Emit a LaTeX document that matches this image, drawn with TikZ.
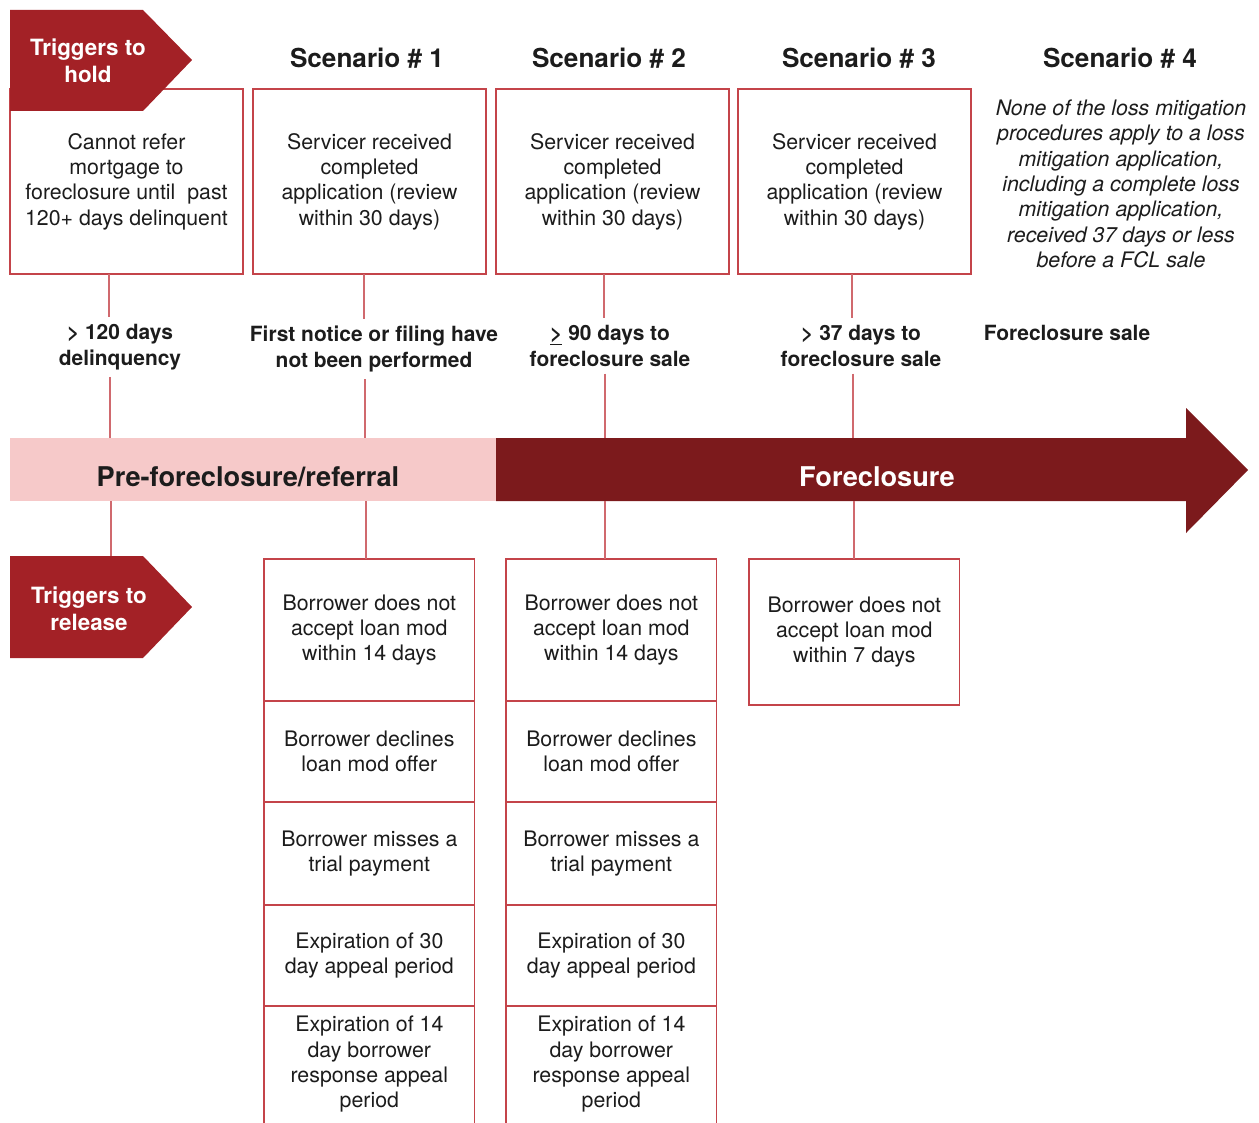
\documentclass[tikz,border=0pt]{standalone}
\usepackage{fontspec}
\setmainfont{TeX Gyre Heros}
\definecolor{hold}{HTML}{A32126}
\definecolor{fcl}{HTML}{7C1A1C}
\definecolor{pinkband}{HTML}{F6C9C9}
\definecolor{edge}{HTML}{C4444A}
\definecolor{ink}{HTML}{1C1C1C}
\begin{document}
\begin{tikzpicture}[x=0.75pt,y=-0.75pt,
  body/.style={font=\fontsize{16}{19}\selectfont, text=ink, align=center},
  box/.style={body, draw=edge, line width=1.1pt, fill=white, anchor=north west, inner sep=0pt, outer sep=0pt},
  topbox/.style={box, minimum width=174.75pt, minimum height=138.75pt},
  cell/.style={box, minimum width=158pt},
  head/.style={font=\bfseries\fontsize{19.6}{23}\selectfont, text=ink},
  lab/.style={font=\bfseries\fontsize{15.7}{19.5}\selectfont, text=ink, align=center, inner ysep=5pt},
  conn/.style={draw=edge!80, line width=0.9pt},
  tag/.style={font=\bfseries\fontsize{16.8}{20.5}\selectfont, text=white, align=center}
]
\useasboundingbox (0,0) rectangle (1259,1123);
\clip (0,0) rectangle (1259,1123);

% top boxes
\node[topbox] (b1) at (10,89) {Cannot refer\\mortgage to\\foreclosure until\ \ past\\120+ days delinquent};
\node[topbox] (b2) at (253,89) {Servicer received\\completed\\application (review\\within 30 days)};
\node[topbox] (b3) at (496,89) {Servicer received\\completed\\application (review\\within 30 days)};
\node[topbox] (b4) at (738,89) {Servicer received\\completed\\application (review\\within 30 days)};

% hold tag
\fill[hold] (10,10) -- (143,10) -- (192,60) -- (143,111) -- (10,111) -- cycle;
\node[tag] (hold) at (88,61) {Triggers to\\hold};

% headings
\node[head] (s1) at (367,58) {Scenario \# 1};
\node[head] (s2) at (609,58) {Scenario \# 2};
\node[head] (s3) at (859,58) {Scenario \# 3};
\node[head] (s4) at (1120,58) {Scenario \# 4};

\node[body, font=\itshape\fontsize{16}{19}\selectfont] (s4t) at (1121,184)
 {None of the loss mitigation\\procedures apply to a loss\\mitigation application,\\including a complete loss\\mitigation application,\\received 37 days or less\\before a FCL sale};

% labels
\node[lab] (l1) at (120,347) {> 120 days\\delinquency};
\node[lab] (l2) at (374,349) {First notice or filing have\\not been performed};
\node[lab] (l3) at (610,346) {\underline{>} 90 days to\\foreclosure sale};
\node[lab] (l4) at (861,346) {> 37 days to\\foreclosure sale};
\node[lab] (l5) at (1067,333) {Foreclosure sale};

% band
\node[fill=pinkband, minimum width=364.5pt, minimum height=47.25pt, anchor=north west, inner sep=0pt, outer sep=0pt] (pre) at (10,438) {};
\node[font=\bfseries\fontsize{20.4}{24}\selectfont, text=ink] (pret) at (248,477) {Pre-foreclosure/referral};
\fill[fcl] (496,438) -- (1186,438) -- (1186,408) -- (1248,470) -- (1186,533) -- (1186,501) -- (496,501) -- cycle;
\node[font=\bfseries\fontsize{20.4}{24}\selectfont, text=white] (fc) at (877,477) {Foreclosure};

% release tag
\fill[hold] (10,556) -- (143,556) -- (192,607) -- (143,658) -- (10,658) -- cycle;
\node[tag] (rel) at (89,609) {Triggers to\\release};
\coordinate (relTop) at (111,556);

% bottom columns
\node[cell, minimum height=106.5pt] (a1) at (264,559) {Borrower does not\\accept loan mod\\within 14 days};
\node[cell, minimum height=75.75pt] (a2) at (a1.south west) {Borrower declines\\loan mod offer};
\node[cell, minimum height=77.25pt] (a3) at (a2.south west) {Borrower misses a\\trial payment};
\node[cell, minimum height=75.75pt] (a4) at (a3.south west) {Expiration of 30\\day appeal period};
\node[cell, minimum height=87.75pt, draw=none, fill=none] (a5) at (a4.south west) {Expiration of 14\\day borrower\\response appeal\\period};
\draw[edge, line width=1.1pt] (a5.north west) -- ([yshift=-6pt]a5.south west) (a5.north east) -- ([yshift=-6pt]a5.south east);

\node[cell, minimum height=106.5pt] (c1) at (506,559) {Borrower does not\\accept loan mod\\within 14 days};
\node[cell, minimum height=75.75pt] (c2) at (c1.south west) {Borrower declines\\loan mod offer};
\node[cell, minimum height=77.25pt] (c3) at (c2.south west) {Borrower misses a\\trial payment};
\node[cell, minimum height=75.75pt] (c4) at (c3.south west) {Expiration of 30\\day appeal period};
\node[cell, minimum height=87.75pt, draw=none, fill=none] (c5) at (c4.south west) {Expiration of 14\\day borrower\\response appeal\\period};
\draw[edge, line width=1.1pt] (c5.north west) -- ([yshift=-6pt]c5.south west) (c5.north east) -- ([yshift=-6pt]c5.south east);

\node[cell, minimum height=109.5pt] (d1) at (749,559) {Borrower does not\\accept loan mod\\within 7 days};

% connectors
\draw[conn] (b1.south -| 109,0) -- (l1.north -| 109,0);
\draw[conn] (l1.south -| 110,0) -- (pre.north -| 110,0);
\draw[conn] (pre.south -| 111,0) -- (relTop);
\draw[conn] (b2.south -| 364,0) -- (l2.north -| 364,0);
\draw[conn] (l2.south -| 365,0) -- (pre.north -| 365,0);
\draw[conn] (pre.south -| 366,0) -- (a1.north -| 366,0);
\draw[conn] (b3.south -| 604,0) -- (l3.north -| 604,0);
\draw[conn] (l3.south -| 605,0) -- (pre.north -| 605,0);
\draw[conn] (pre.south -| 605,0) -- (c1.north -| 605,0);
\draw[conn] (b4.south -| 852,0) -- (l4.north -| 852,0);
\draw[conn] (l4.south -| 853,0) -- (pre.north -| 853,0);
\draw[conn] (pre.south -| 854,0) -- (d1.north -| 854,0);
\end{tikzpicture}
\end{document}
